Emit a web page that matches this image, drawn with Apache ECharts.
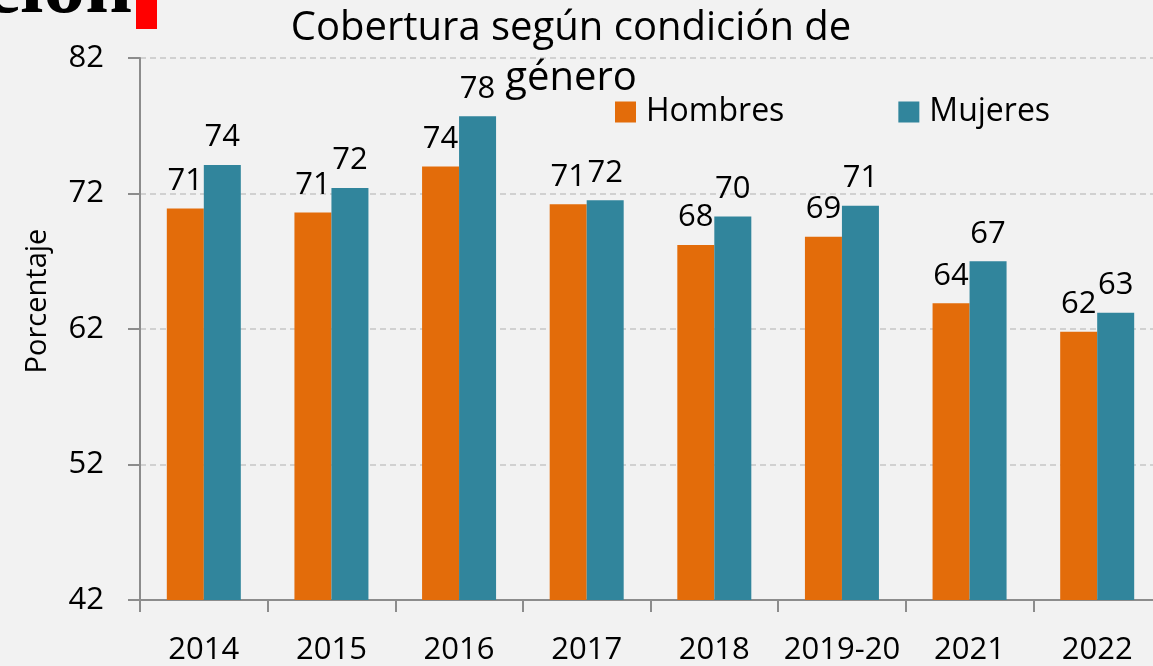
<!DOCTYPE html>
<html>
<head>
<meta charset="utf-8">
<script src="https://cdn.jsdelivr.net/npm/echarts@6/dist/echarts.min.js"></script>
<style>
  html, body { margin: 0; padding: 0; background: #f2f2f2; }
  #chart { width: 1153px; height: 666px; }
</style>
</head>
<body>
<div id="chart"></div>
<script>
// categorias del eje x
const years = ['2014', '2015', '2016', '2017', '2018', '2019-20', '2021', '2022']
// porcentaje de cobertura
const hombres = [70.9, 70.6, 74.0, 71.2, 68.2, 68.8, 63.9, 61.8]
const mujeres = [74.1, 72.4, 77.7, 71.5, 70.3, 71.1, 67.0, 63.2]
const yTicks = [42, 52, 62, 72, 82]

const font = '"Open Sans", "Noto Sans", sans-serif'
const chart = echarts.init(document.getElementById('chart'))

const labelStyle = {
  show: true,
  position: 'top',
  distance: 12,
  color: '#000',
  fontFamily: font,
  fontSize: 31,
  formatter: (p) => Math.round(p.value)
}

chart.setOption({
  backgroundColor: '#f2f2f2',
  textStyle: { fontFamily: font },
  title: {
    text: 'Cobertura según condición de\ngénero',
    left: 571,
    textAlign: 'center',
    top: 4,
    padding: 0,
    textStyle: { fontSize: 40, fontWeight: 'normal', color: '#000', lineHeight: 50 }
  },
  legend: {
    data: ['Hombres', 'Mujeres'],
    left: 615,
    top: 96,
    padding: 0,
    icon: 'rect',
    itemWidth: 21,
    itemHeight: 21,
    itemGap: 114,
    textStyle: { fontSize: 32, color: '#000', padding: [0, 0, 0, 5] }
  },
  grid: {
    left: 140,
    top: 58,
    width: 1021,
    height: 542,
    outerBoundsMode: 'none'
  },
  xAxis: {
    type: 'category',
    data: years,
    axisLine: { lineStyle: { color: '#8c8c8c', width: 2 } },
    axisTick: { show: true, length: 12, lineStyle: { color: '#8c8c8c', width: 2 } },
    axisLabel: { color: '#000', fontSize: 31, margin: 35, interval: 0 }
  },
  yAxis: {
    type: 'value',
    min: yTicks[0],
    max: yTicks[yTicks.length - 1],
    interval: 10,
    axisLine: { show: true, lineStyle: { color: '#8c8c8c', width: 2 } },
    axisTick: { show: true, length: 12, lineStyle: { color: '#8c8c8c', width: 2 } },
    axisLabel: { color: '#000', fontSize: 31, margin: 36 },
    splitLine: { lineStyle: { color: '#c6c6c6', type: [6, 4], width: 1.5 } }
  },
  series: [
    {
      name: 'Hombres',
      type: 'bar',
      data: hombres,
      barWidth: 37,
      barGap: '0%',
      itemStyle: { color: '#e36c0a' },
      label: labelStyle
    },
    {
      name: 'Mujeres',
      type: 'bar',
      data: mujeres,
      barWidth: 37,
      itemStyle: { color: '#31859c' },
      label: labelStyle
    }
  ],
  graphic: [
    {
      type: 'text',
      x: 38,
      y: 301,
      rotation: Math.PI / 2,
      style: {
        text: 'Porcentaje',
        font: '29px ' + font,
        fill: '#000',
        align: 'center',
        verticalAlign: 'middle'
      }
    },
    {
      type: 'text',
      x: 132,
      y: -10,
      style: {
        text: 'ción',
        font: 'bold 84px "Liberation Serif", serif',
        fill: '#000',
        align: 'right',
        verticalAlign: 'middle'
      }
    },
    {
      type: 'rect',
      shape: { x: 136, y: 0, width: 21, height: 29 },
      style: { fill: '#ff0000' }
    }
  ]
})
</script>
</body>
</html>
